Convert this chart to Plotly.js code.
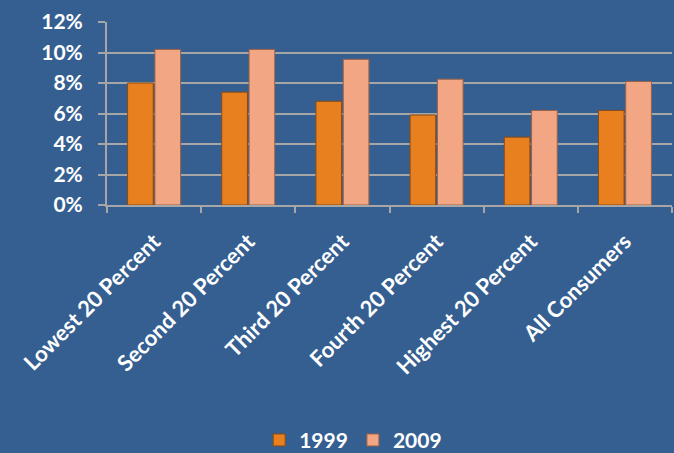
<!DOCTYPE html>
<html><head><meta charset="utf-8">
<script src="https://cdn.plot.ly/plotly-3.0.1.min.js"></script>
<style>html,body{margin:0;padding:0;background:#365F91;}</style>
</head><body>
<div id="chart" style="width:674px;height:453px;"></div>
<script>
const categories = ["Lowest 20 Percent","Second 20 Percent","Third 20 Percent","Fourth 20 Percent","Highest 20 Percent","All Consumers"];
const values1999 = [0.080, 0.074, 0.068, 0.059, 0.0445, 0.062];
const values2009 = [0.102, 0.102, 0.0955, 0.0825, 0.062, 0.081];
const seriesNames = ["1999","2009"];
const yTicks = [0,0.02,0.04,0.06,0.08,0.10,0.12];

const font = {family:"Lato, 'Open Sans', sans-serif", color:"#FFFFFF", weight:700};

const data = [
  {type:"bar", name:seriesNames[0], x:categories, y:values1999,
   marker:{color:"#E8801F", line:{color:"#8A4A14", width:1}}},
  {type:"bar", name:seriesNames[1], x:categories, y:values2009,
   marker:{color:"#F3A683", line:{color:"#9A6248", width:1}}}
];
const layout = {
  width:674, height:453,
  paper_bgcolor:"#365F91", plot_bgcolor:"#365F91",
  margin:{l:107, r:2, t:22, b:248},
  barmode:"group", bargap:0.42, bargroupgap:0.06,
  font:font,
  xaxis:{type:"category", tickangle:-45, tickson:"boundaries", ticks:"outside", ticklen:6,
         tickcolor:"#A6A6A6", tickwidth:2, showline:true, linecolor:"#A6A6A6", linewidth:2,
         showgrid:false, ticklabelstandoff:13,
         tickfont:{family:font.family, size:22, color:"#FFFFFF", weight:700}},
  yaxis:{range:[0,0.12], tickvals:yTicks, tickformat:".0%", ticks:"outside", ticklen:7,
         tickcolor:"#A6A6A6", tickwidth:2, showline:true, linecolor:"#A6A6A6", linewidth:2,
         gridcolor:"#A6A6A6", gridwidth:2, zeroline:false, ticklabelstandoff:11,
         tickfont:{family:font.family, size:21, color:"#FFFFFF", weight:700}},
  showlegend:true,
  legend:{orientation:"h", xref:"container", yref:"container", x:0.524, xanchor:"center",
          y:0.028, yanchor:"middle", font:{family:font.family, size:21, color:"#FFFFFF", weight:700},
          bgcolor:"rgba(0,0,0,0)", itemwidth:30}
};
Plotly.newPlot("chart", data, layout, {displayModeBar:false, staticPlot:true});
</script>
</body></html>
